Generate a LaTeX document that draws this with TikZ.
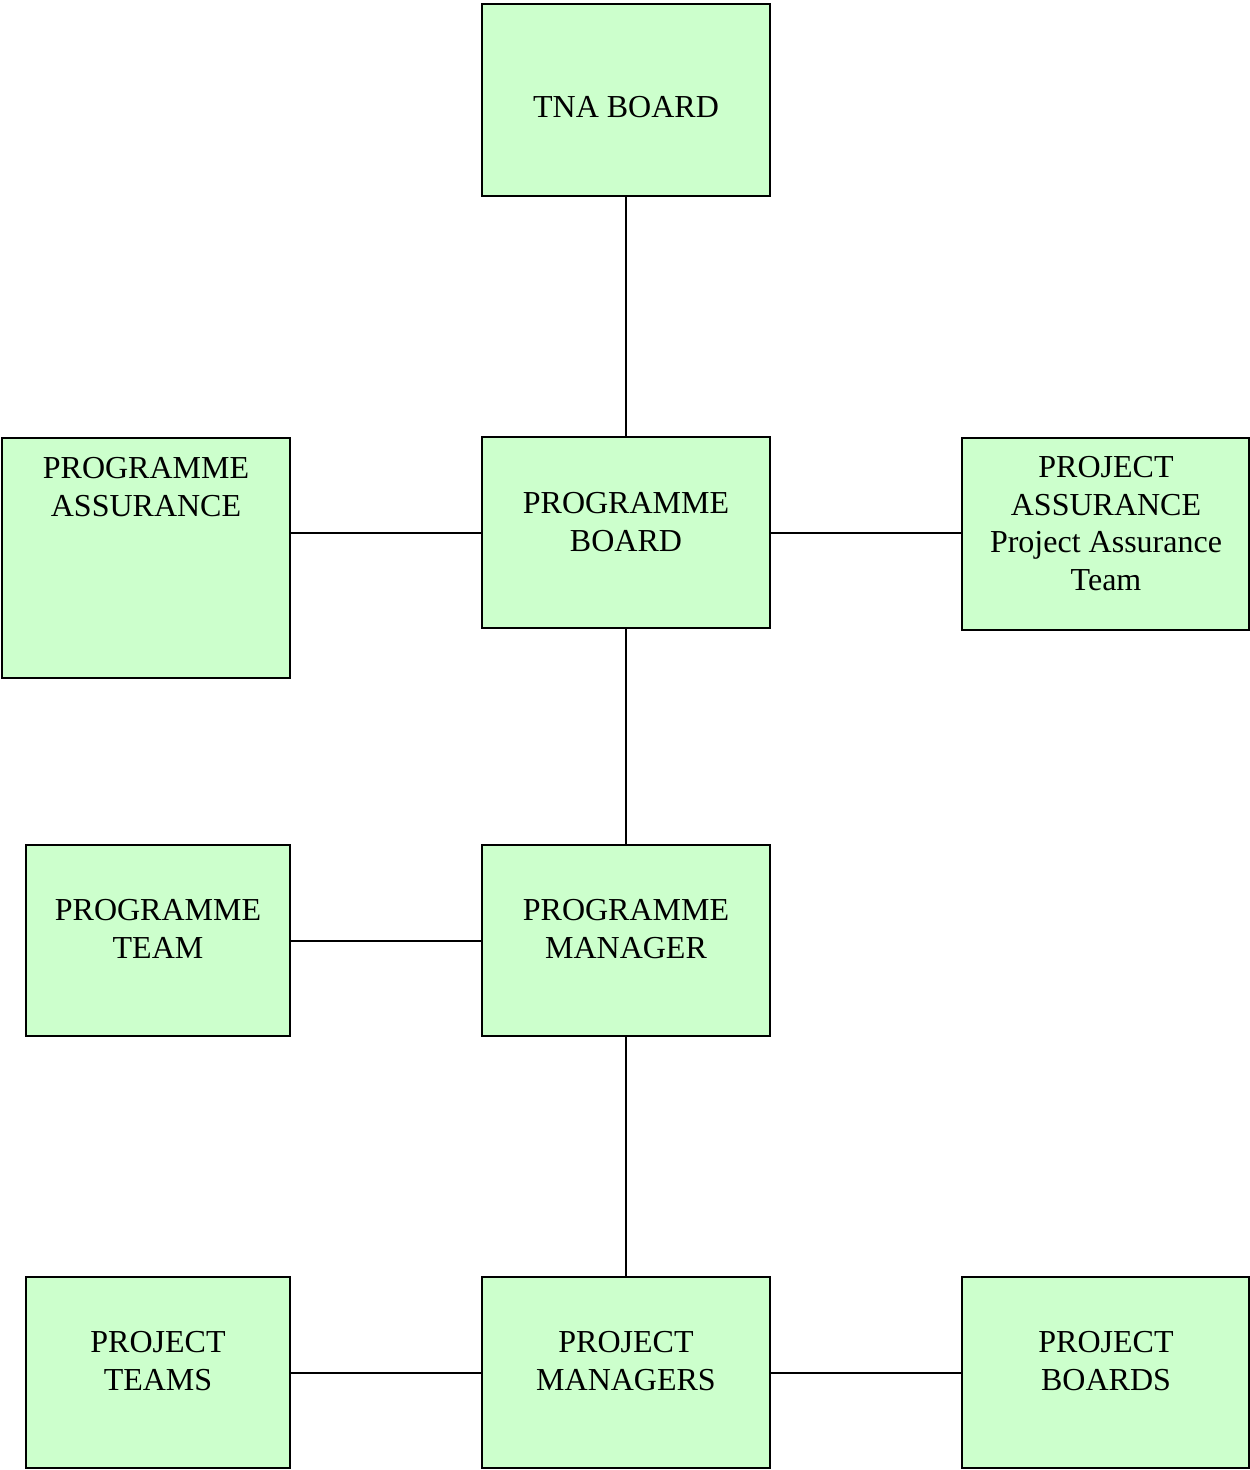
\documentclass[tikz,border=0pt]{standalone}
\usepackage{fontspec}
\setmainfont{Liberation Serif}
\definecolor{boxgreen}{HTML}{CCFFCC}
\begin{document}
\begin{tikzpicture}[x=1pt,y=-1pt,
  orgbox/.style={draw=black, line width=2pt, fill=boxgreen, inner sep=0pt},
  lbl/.style={anchor=north, inner sep=0pt, align=center, font=\fontsize{32}{37.5}\selectfont},
  conn/.style={line width=2pt}]
\useasboundingbox (0,0) rectangle (1250,1470);
% boxes
\node[orgbox, minimum width=288pt, minimum height=192pt] (tna) at (626,100) {};
\node[orgbox, minimum width=288pt, minimum height=240pt] (pa) at (146,558) {};
\node[orgbox, minimum width=288pt, minimum height=191pt] (pb) at (626,532.5) {};
\node[orgbox, minimum width=287pt, minimum height=192pt] (pja) at (1105.5,534) {};
\node[orgbox, minimum width=264pt, minimum height=191pt] (pt) at (158,940.5) {};
\node[orgbox, minimum width=288pt, minimum height=191pt] (pm) at (626,940.5) {};
\node[orgbox, minimum width=264pt, minimum height=191pt] (pts) at (158,1372.5) {};
\node[orgbox, minimum width=288pt, minimum height=191pt] (pms) at (626,1372.5) {};
\node[orgbox, minimum width=287pt, minimum height=191pt] (pbs) at (1105.5,1372.5) {};
% labels
\node[lbl] (tnaT) at (626,91.4) {\strut TNA BOARD};
\node[lbl] (paT) at (146,452.4) {\strut PROGRAMME\\\strut ASSURANCE};
\node[lbl] (pbT) at (626,487.4) {\strut PROGRAMME\\\strut BOARD};
\node[lbl] (pjaT) at (1106,451.4) {\strut PROJECT\\\strut ASSURANCE\\\strut Project Assurance\\\strut Team};
\node[lbl] (ptT) at (158,894.4) {\strut PROGRAMME\\\strut TEAM};
\node[lbl] (pmT) at (626,894.4) {\strut PROGRAMME\\\strut MANAGER};
\node[lbl] (ptsT) at (158,1326.4) {\strut PROJECT\\\strut TEAMS};
\node[lbl] (pmsT) at (626,1326.4) {\strut PROJECT\\\strut MANAGERS};
\node[lbl] (pbsT) at (1106,1326.4) {\strut PROJECT\\\strut BOARDS};
% connectors
\draw[conn] (tna.south) -- (pb.north);
\draw[conn] (pb.west -| pa.east) -- (pb.west);
\draw[conn] (pb.east) -- (pb.east -| pja.west);
\draw[conn] (pb.south) -- (pm.north);
\draw[conn] (pt.east) -- (pm.west);
\draw[conn] (pm.south) -- (pms.north);
\draw[conn] (pts.east) -- (pms.west);
\draw[conn] (pms.east) -- (pbs.west);
\end{tikzpicture}
\end{document}
